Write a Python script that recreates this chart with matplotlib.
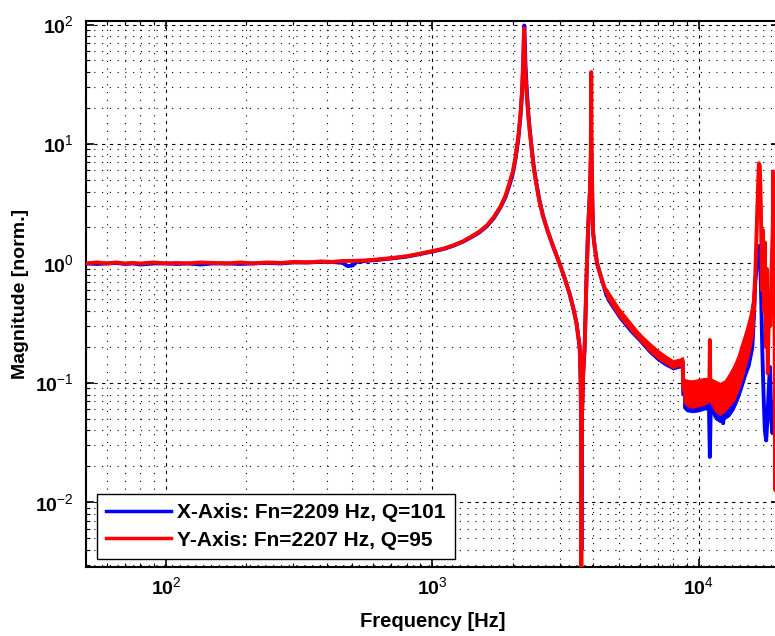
import matplotlib
matplotlib.use('Agg')
import matplotlib.pyplot as plt
from matplotlib.ticker import LogLocator, NullFormatter, FixedLocator, FixedFormatter

# ---------------- data ----------------
x_freq = [50, 55, 60, 65, 70, 75, 80, 90, 100, 110, 120, 135, 150, 170, 190, 210, 240, 270,
          300, 340, 380, 420, 460, 480, 500, 520, 560, 620, 700, 800, 900, 1000, 1100, 1200,
          1300, 1400, 1500, 1600, 1700, 1800, 1880, 1950, 2000, 2050, 2100, 2140, 2170, 2190,
          2205, 2212, 2220, 2235, 2260, 2290, 2320, 2360, 2400, 2450, 2520, 2600, 2700, 2850,
          3000, 3130, 3270, 3380, 3470, 3540, 3570, 3600, 3615, 3625, 3640, 3680, 3727, 3785,
          3838, 3900, 3945, 3975, 4010, 4064, 4150, 4250, 4350,
          4500, 5000, 5500, 6000, 6500, 7000, 7500, 8000, 8500, 8700, 8740, 9500, 10500,
          10900, 11000, 11100, 12000, 12340, 12500, 13000, 14000, 15000, 16000,
          16300, 16600, 16850, 17000, 17150,
          17300, 17500, 17700, 17900, 18100, 18300, 18500, 18700, 18900, 19100, 19400, 20000]
x_mag = [1.0, 0.99, 1.0, 1.01, 0.99, 1.0, 0.98, 1.0, 1.0, 0.99, 1.0, 0.98, 1.0, 1.0, 0.99, 1.0,
         1.01, 1.0, 1.02, 1.02, 1.03, 1.03, 1.01, 0.95, 0.96, 1.03, 1.05, 1.07, 1.1, 1.14, 1.2,
         1.26, 1.32, 1.41, 1.52, 1.66, 1.82, 2.05, 2.4, 2.95, 3.6, 4.6, 5.6, 7.5, 11, 17, 27,
         45, 80, 98, 75, 45, 28, 18, 13, 9, 6.5, 4.8, 3.4, 2.5, 1.9, 1.35, 1.0, 0.76, 0.56,
         0.42, 0.32, 0.23, 0.2, 0.106, 0.03, 0.004, 0.05, 0.12, 0.2, 0.73, 1.9, 4.0, 9.0, 4.0,
         1.8, 1.38, 1.0, 0.83, 0.7,
         0.54, 0.38, 0.29, 0.235, 0.19, 0.165, 0.15, 0.138, 0.145, 0.15, 0.08, 0.076, 0.078,
         0.075, 0.024, 0.075, 0.065, 0.046, 0.068, 0.075, 0.1, 0.16, 0.35,
         0.7, 1.1, 1.4, 1.1, 0.5,
         0.2, 0.08, 0.04, 0.033, 0.05, 0.09, 0.136, 0.05, 0.038, 0.07, 0.05, 0.04]

y_freq = [50, 55, 60, 65, 70, 75, 80, 90, 100, 110, 120, 135, 150, 170, 190, 210, 240, 270,
          300, 340, 380, 420, 460, 500, 560, 620, 700, 800, 900, 1000, 1100, 1200,
          1300, 1400, 1500, 1600, 1700, 1800, 1880, 1950, 2000, 2050, 2100, 2140, 2170, 2190,
          2200, 2207, 2215, 2230, 2255, 2290, 2320, 2360, 2400, 2450, 2520, 2600, 2700, 2850,
          3000, 3130, 3270, 3380, 3470, 3540, 3570, 3600, 3612, 3620, 3630, 3645, 3680, 3727,
          3785, 3838, 3900, 3930, 3945, 3960, 3985, 4010, 4064, 4150, 4250, 4350,
          4500, 5000, 5500, 6000, 6500, 7000, 7500, 8000, 8500, 8700, 8740, 9500, 10500,
          10950, 11000, 11050, 12000, 13000, 14000, 15000, 16000,
          16300, 16550, 16800, 16950,
          17100, 17250, 17400, 17550, 17700, 17850, 18000, 18150, 18350, 18550, 18750, 18950,
          19050, 19150, 19250, 19350, 19500, 20000]
y_mag = [1.0, 1.02, 1.0, 1.02, 1.0, 1.01, 1.0, 1.02, 1.0, 1.01, 1.0, 1.02, 1.01, 1.0, 1.02,
         1.0, 1.02, 1.01, 1.03, 1.02, 1.04, 1.03, 1.05, 1.05, 1.06, 1.08, 1.11, 1.15, 1.21,
         1.27, 1.33, 1.42, 1.53, 1.68, 1.85, 2.08, 2.45, 3.0, 3.7, 4.8, 5.8, 7.8, 11.5, 18, 29,
         50, 70, 93, 70, 42, 27, 17, 12.5, 8.8, 6.3, 4.7, 3.3, 2.5, 1.9, 1.35, 1.0, 0.76, 0.56,
         0.42, 0.32, 0.23, 0.2, 0.106, 0.05, 0.001, 0.02, 0.06, 0.12, 0.2, 0.73, 1.9, 4.0, 9.0,
         40, 9.0, 3.0, 1.8, 1.38, 1.0, 0.83, 0.7,
         0.57, 0.39, 0.3, 0.24, 0.2, 0.175, 0.157, 0.143, 0.15, 0.155, 0.088, 0.081, 0.084,
         0.088, 0.229, 0.088, 0.074, 0.088, 0.12, 0.2, 0.38,
         0.83, 2.5, 6.9, 6.5,
         3.0, 0.6, 1.9, 0.4, 1.5, 0.2, 0.9, 0.12, 0.5, 0.3, 0.9, 2.0,
         5.9, 1.0, 0.3, 0.0127, 0.05, 0.03]

# noisy spread of the measured response (upper / lower envelope) above 4.5 kHz
band_freq = [4500, 5000, 5500, 6000, 6500, 7000, 7500, 8000, 8500, 8700, 8740, 9000, 9500,
             10000, 10500, 11000, 11500, 12000, 12500, 13000, 13500, 14000, 14500, 15000,
             15500, 16000, 16300]
red_hi = [0.62, 0.43, 0.33, 0.26, 0.22, 0.19, 0.17, 0.155, 0.16, 0.165, 0.11, 0.106, 0.105,
          0.108, 0.11, 0.11, 0.105, 0.1, 0.105, 0.12, 0.14, 0.17, 0.22, 0.28, 0.37, 0.55, 0.85]
red_lo = [0.52, 0.36, 0.28, 0.225, 0.185, 0.16, 0.145, 0.133, 0.14, 0.145, 0.07, 0.064, 0.062,
          0.064, 0.066, 0.07, 0.058, 0.054, 0.058, 0.064, 0.07, 0.085, 0.105, 0.14, 0.18, 0.26,
          0.5]
blue_hi = [0.6, 0.41, 0.32, 0.25, 0.21, 0.18, 0.16, 0.148, 0.152, 0.157, 0.104, 0.1, 0.1,
           0.102, 0.104, 0.104, 0.1, 0.095, 0.1, 0.114, 0.133, 0.16, 0.21, 0.27, 0.35, 0.52,
           0.8]
blue_lo = [0.5, 0.35, 0.27, 0.22, 0.18, 0.155, 0.14, 0.13, 0.135, 0.14, 0.062, 0.058, 0.057,
           0.058, 0.06, 0.06, 0.05, 0.047, 0.05, 0.053, 0.06, 0.072, 0.09, 0.115, 0.14, 0.2,
           0.45]

x_label_text = 'X-Axis: Fn=2209 Hz, Q=101'
y_label_text = 'Y-Axis: Fn=2207 Hz, Q=95'
xtick_vals = [100, 1000, 10000]
xtick_labels = [r'$\mathbf{10}^{\mathrm{2}}$', r'$\mathbf{10}^{\mathrm{3}}$', r'$\mathbf{10}^{\mathrm{4}}$']
ytick_vals = [0.01, 0.1, 1, 10, 100]
ytick_labels = [r'$\mathbf{10}^{\mathrm{-2}}$', r'$\mathbf{10}^{\mathrm{-1}}$', r'$\mathbf{10}^{\mathrm{0}}$',
                r'$\mathbf{10}^{\mathrm{1}}$', r'$\mathbf{10}^{\mathrm{2}}$']

# ---------------- style ----------------
plt.rcParams['font.family'] = ['Liberation Sans', 'DejaVu Sans']
plt.rcParams['mathtext.fontset'] = 'custom'
plt.rcParams['mathtext.rm'] = 'Liberation Sans'
plt.rcParams['mathtext.bf'] = 'Liberation Sans:bold'

BLUE = (0, 0, 1)
RED = (1, 0, 0)

fig = plt.figure(figsize=(7.75, 6.36), dpi=100)
ax = fig.add_axes([86 / 775, 69 / 636, 693 / 775, 546 / 636])

ax.fill_between(band_freq, blue_lo, blue_hi, color=BLUE, lw=0.8, zorder=2.9)
ax.loglog(x_freq, x_mag, color=BLUE, lw=2.8, label=x_label_text, zorder=3)
ax.fill_between(band_freq, red_lo, red_hi, color=RED, lw=0.8, zorder=3.9)
ax.loglog(y_freq, y_mag, color=RED, lw=2.8, label=y_label_text, zorder=4)

ax.set_xlim(50, 20000)
ax.set_ylim(0.00288, 107)

ax.xaxis.set_major_locator(FixedLocator(xtick_vals))
ax.xaxis.set_major_formatter(FixedFormatter(xtick_labels))
ax.yaxis.set_major_locator(FixedLocator(ytick_vals))
ax.yaxis.set_major_formatter(FixedFormatter(ytick_labels))
ax.xaxis.set_minor_locator(LogLocator(base=10, subs=range(2, 10), numticks=30))
ax.yaxis.set_minor_locator(LogLocator(base=10, subs=range(2, 10), numticks=30))
ax.xaxis.set_minor_formatter(NullFormatter())
ax.yaxis.set_minor_formatter(NullFormatter())

ax.tick_params(which='both', direction='in', top=True, right=True, color='k')
ax.tick_params(which='major', length=6, width=1.2, labelsize=14)
ax.tick_params(which='minor', length=3, width=0.8)
ax.tick_params(axis='x', which='major', pad=7)
ax.tick_params(axis='y', which='major', pad=9)

ax.set_axisbelow(True)
ax.grid(True, which='major', color='k', linestyle=(0, (3, 4)), lw=0.8)
ax.grid(True, which='minor', color='k', linestyle=(0, (1, 6)), lw=0.8)
for s in ax.spines.values():
    s.set_linewidth(1.5)
    s.set_color('k')

ax.set_xlabel('Frequency [Hz]', fontsize=14.5, fontweight='bold')
ax.set_ylabel('Magnitude [norm.]', fontsize=14, fontweight='bold')
ax.xaxis.set_label_coords(0.5, -0.082)
ax.yaxis.set_label_coords(-0.082, 0.5)

leg = ax.legend(loc='lower left', bbox_to_anchor=(0.0159, 0.0147), borderaxespad=0,
                prop={'weight': 'bold', 'size': 15}, handlelength=3.1, handletextpad=0.3,
                borderpad=0.45, labelspacing=0.4, fancybox=False, framealpha=1)
leg.get_frame().set_edgecolor('k')
leg.get_frame().set_linewidth(1.0)
for ln in leg.get_lines():
    ln.set_linewidth(2.5)

fig.savefig('out.png', dpi=100)
